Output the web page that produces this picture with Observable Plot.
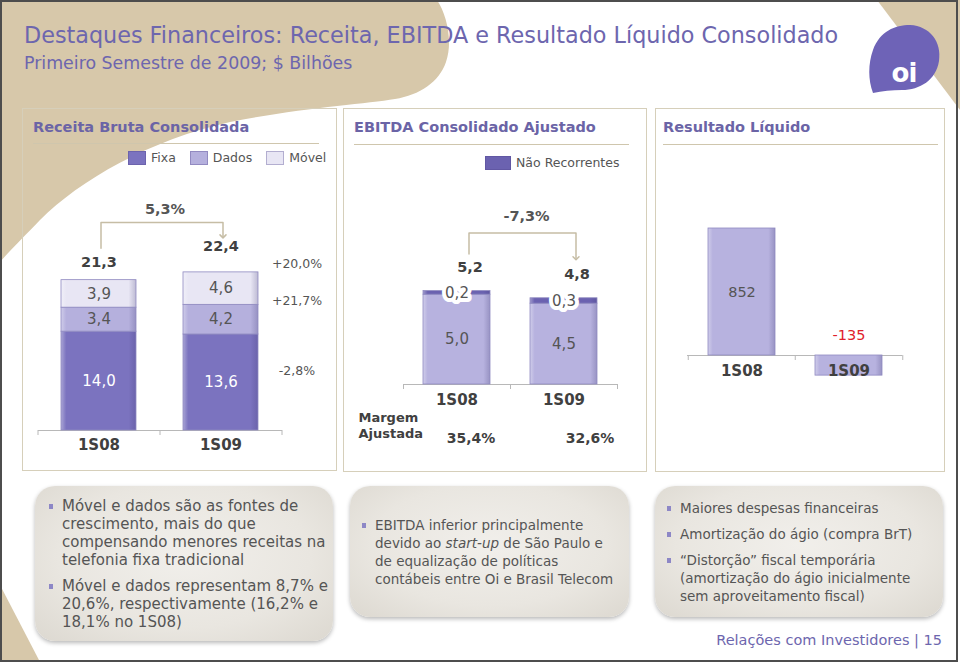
<!DOCTYPE html>
<html><head><meta charset="utf-8">
<script src="https://cdn.jsdelivr.net/npm/d3@7"></script>
<script src="https://cdn.jsdelivr.net/npm/@observablehq/plot@0.6"></script>
<style>
body{margin:0;background:#fff;}
#slide{position:relative;width:960px;height:665px;overflow:hidden;font-family:"DejaVu Sans",Verdana,sans-serif;color:#555;}
.abs{position:absolute;white-space:nowrap;}
.title{left:24px;top:22px;font-size:22.3px;line-height:26px;color:#6d66ae;}
.subtitle{left:24px;top:52px;font-size:17.4px;line-height:22px;color:#6d66ae;}
.panel{position:absolute;border:1px solid #d6cfba;box-sizing:border-box;}
.ptitle{font-size:14.5px;font-weight:bold;line-height:18px;color:#6b64a6;}
.pline{height:0;border-top:1.5px solid #cfc6ad;}
.legend{font-size:12.5px;line-height:16px;color:#555;display:flex;align-items:center;}
.legend .sw{display:inline-block;height:14px;margin-right:5px;box-sizing:border-box;border:1px solid rgba(80,70,140,0.35);}
.legend .it{display:flex;align-items:center;margin-right:14px;}
.box{position:absolute;border-radius:20px;box-sizing:border-box;display:flex;flex-direction:column;justify-content:center;
 background:radial-gradient(ellipse at 50% 45%, #f1efeb 0%, #e9e6e0 60%, #dcd8d0 100%);box-shadow:0 2px 4px rgba(0,0,0,0.28);color:#555;}
.box .item{position:relative;white-space:nowrap;line-height:18px;}
.box .item + .item{margin-top:8px;}
.box .item::before{content:"";position:absolute;left:-13px;top:7px;width:4px;height:5px;background:#8d87c6;}
.chart{position:absolute;}
.chart svg{max-width:none;}
.footer{right:18px;top:630px;font-size:14.5px;line-height:20px;color:#6d66ae;}
</style></head>
<body>
<div id="slide">
<svg class="abs" style="left:0;top:0" width="960" height="665">
 <path d="M0,0 L437,0 C447,15 453,42 446,62 C439,82 420,95 395,99 C365,104 300,108 230,122 C150,140 80,180 40,220 C25,236 12,248 0,262 Z" fill="#d7c8aa"/>
 <path d="M877,0 L960,0 L960,110 Z" fill="#d7c8aa"/>
 <path d="M0,585 L40,662 L0,662 Z" fill="#d7c8aa"/>
 <path d="M873,93 C868,80 868,64 873,50 C880,31 895,25 910,25 C930,26 942,42 939,61 C936,80 920,90 902,90 C892,90 882,91 873,93 Z" fill="#6e63b7"/>
 <text x="904" y="82" text-anchor="middle" font-family="DejaVu Sans" font-weight="bold" font-size="26" fill="#fff" letter-spacing="-1">oi</text>
 <rect x="1" y="1" width="956" height="660" fill="none" stroke="#4d4d4d" stroke-width="2"/>
</svg>
<div class="abs title">Destaques Financeiros: Receita, EBITDA e Resultado Líquido Consolidado</div>
<div class="abs subtitle">Primeiro Semestre de 2009; $ Bilhões</div>

<div class="panel" style="left:22px;top:108px;width:315px;height:363px"></div>
<div class="panel" style="left:343px;top:108px;width:304px;height:364px"></div>
<div class="panel" style="left:655px;top:108px;width:290px;height:364px"></div>

<div class="abs ptitle" style="left:33px;top:118px">Receita Bruta Consolidada</div>
<div class="abs pline" style="left:33px;top:143px;width:286px"></div>
<div class="abs ptitle" style="left:354px;top:118px">EBITDA Consolidado Ajustado</div>
<div class="abs pline" style="left:354px;top:144px;width:275px"></div>
<div class="abs ptitle" style="left:663px;top:118px">Resultado Líquido</div>
<div class="abs pline" style="left:663px;top:144px;width:275px"></div>

<div id="legend1" class="abs legend" style="left:128px;top:150px"></div>
<div id="legend2" class="abs legend" style="left:485px;top:155px"></div>

<div id="c1" class="chart" style="left:22px;top:190px;width:316px;height:280px"></div>
<div id="c2" class="chart" style="left:343px;top:190px;width:304px;height:280px"></div>
<div id="c3" class="chart" style="left:655px;top:190px;width:289px;height:280px"></div>

<div class="box" style="left:35px;top:486px;width:298px;height:155px;padding-left:27px;font-size:15px">
 <div class="item">Móvel e dados são as fontes de<br>crescimento, mais do que<br>compensando menores receitas na<br>telefonia fixa tradicional</div>
 <div class="item">Móvel e dados representam 8,7% e<br>20,6%, respectivamente (16,2% e<br>18,1% no 1S08)</div>
</div>
<div class="box" style="left:350px;top:486px;width:279px;height:131px;padding-left:25px;font-size:13.5px">
 <div class="item">EBITDA inferior principalmente<br>devido ao <i>start-up</i> de São Paulo e<br>de equalização de políticas<br>contábeis entre Oi e Brasil Telecom</div>
</div>
<div class="box" style="left:655px;top:486px;width:288px;height:131px;padding-left:25px;font-size:13.5px">
 <div class="item">Maiores despesas financeiras</div>
 <div class="item">Amortização do ágio (compra BrT)</div>
 <div class="item">“Distorção” fiscal temporária<br>(amortização do ágio inicialmente<br>sem aproveitamento fiscal)</div>
</div>
<div class="abs footer">Relações com Investidores | 15</div>
</div>

<script>
// ---------- data ----------
const periods = ["1S08", "1S09"];
const revenueSeries = ["Fixa", "Dados", "Móvel"];
const revenueFixa = [14.0, 13.6];
const revenueDados = [3.4, 4.2];
const revenueMovel = [3.9, 4.6];
const revenueTotal = [21.3, 22.4];
const revenueGrowth = ["-2,8%", "+21,7%", "+20,0%"]; // Fixa, Dados, Móvel
const revenueTotalGrowth = "5,3%";

const ebitdaSeries = ["Recorrente", "Não Recorrentes"];
const ebitdaRecorrente = [5.0, 4.5];
const ebitdaNaoRecorrente = [0.2, 0.3];
const ebitdaTotal = [5.2, 4.8];
const ebitdaGrowth = "-7,3%";
const margemAjustada = ["35,4%", "32,6%"];

const resultado = [852, -135];

// ---------- styles ----------
const revColors = ["#7b73bf", "#b5b0dd", "#e8e6f4"];
const ebColors = ["#b7b2df", "#6b62b0"];
const resColor = "#b7b2df";
const axisColor = "#b8b8b8";
const bracketColor = "#c6bda5";
const darkText = "#404040";
const midText = "#555";
const font = "DejaVu Sans, Verdana, sans-serif";
const fmt = v => v.toFixed(1).replace(".", ",");

// bevel gradients (one per fill colour)
const gradId = c => "g" + c.replace("#", "");
function addGradients(svg, colors) {
  const ns = "http://www.w3.org/2000/svg";
  const defs = document.createElementNS(ns, "defs");
  for (const c of colors) {
    const g = document.createElementNS(ns, "linearGradient");
    g.setAttribute("id", gradId(c));
    g.setAttribute("x1", "0"); g.setAttribute("x2", "1"); g.setAttribute("y1", "0"); g.setAttribute("y2", "0");
    const stops = [[0, d3.interpolate(c, "#fff")(0.35)], [0.07, c], [0.9, c], [1, d3.interpolate(c, "#3a3470")(0.25)]];
    for (const [o, col] of stops) {
      const s = document.createElementNS(ns, "stop");
      s.setAttribute("offset", o); s.setAttribute("stop-color", col);
      g.append(s);
    }
    defs.append(g);
  }
  svg.prepend(defs);
  return svg;
}
const urlOf = c => `url(#${gradId(c)})`;

// ---------- legends ----------
function legend(el, names, colors, swW) {
  el.innerHTML = names.map((n, i) =>
    `<span class="it"><span class="sw" style="width:${swW}px;background:${colors[i]}"></span>${n}</span>`).join("");
}
legend(document.getElementById("legend1"), revenueSeries, revColors, 18);
legend(document.getElementById("legend2"), [ebitdaSeries[1]], [ebColors[1]], 26);

// ---------- chart 1: Receita ----------
{
  const rows = periods.flatMap((p, i) => revenueSeries.map((s, j) =>
    ({period: p, series: s, value: [revenueFixa, revenueDados, revenueMovel][j][i]})));
  const totals = periods.map((p, i) => ({period: p, total: revenueTotal[i]}));
  const W = 316, H = 280, L = 16, R = 56, B = 40, T = 0, ymax = 34;
  const k = (H - B - T) / ymax, px = p => p / k;
  const step = (W - L - R) / periods.length;
  const top = d3.max(revenueTotal) + px(50);
  const bracket = [
    {period: periods[0], y: revenueTotal[0] + px(32)},
    {period: periods[0], y: top},
    {period: periods[1], y: top},
    {period: periods[1], y: revenueTotal[1] + px(36)}
  ];
  const growthDy = {"Fixa": -12, "Dados": -19, "Móvel": -25};
  const stackOpts = {x: "period", y: "value", z: "series", order: revenueSeries};
  const svg = Plot.plot({
    width: W, height: H, marginLeft: L, marginRight: R, marginTop: T, marginBottom: B,
    x: {domain: periods, paddingInner: 0.385, paddingOuter: 0.1925, axis: null},
    y: {domain: [0, ymax], axis: null},
    color: {domain: revenueSeries, range: revColors.map(urlOf)},
    style: {fontFamily: font, background: "transparent", overflow: "visible"},
    marks: [
      Plot.ruleY([0], {stroke: axisColor}),
      Plot.ruleX(periods, {x: d => d, dx: -step / 2, y1: 0, y2: -px(5), stroke: axisColor}),
      Plot.ruleX(periods.slice(-1), {x: d => d, dx: step / 2, y1: 0, y2: -px(5), stroke: axisColor}),
      Plot.barY(rows, {...stackOpts, fill: "series", stroke: "#8f89c0", strokeWidth: 0.8}),
      Plot.text(rows, Plot.stackY({...stackOpts, text: d => d.series === "Fixa" ? fmt(d.value) : "", fill: "white", fontSize: 15})),
      Plot.text(rows, Plot.stackY({...stackOpts, text: d => d.series !== "Fixa" ? fmt(d.value) : "", fill: midText, fontSize: 15})),
      ...revenueSeries.map((s, j) => Plot.text(rows, Plot.stackY({...stackOpts,
        text: d => d.period === periods[1] && d.series === s ? revenueGrowth[j] : "",
        dx: 76, dy: growthDy[s], fill: midText, fontSize: 12.5}))),
      Plot.text(totals, {filter: d => d.period === periods[0], x: "period", y: "total", dy: -18, text: d => fmt(d.total), fontWeight: "bold", fontSize: 14.5, fill: darkText}),
      Plot.text(totals, {filter: d => d.period === periods[1], x: "period", y: "total", dy: -26, text: d => fmt(d.total), fontWeight: "bold", fontSize: 14.5, fill: darkText}),
      Plot.line(bracket, {x: "period", y: "y", stroke: bracketColor, strokeWidth: 1.5, markerEnd: "arrow", dx: 2}),
      Plot.text([revenueTotalGrowth], {x: [periods[0]], y: [top], dx: step / 2 + 5, dy: -13, text: d => d, fontWeight: "bold", fontSize: 14.5, fill: midText}),
      Plot.text(periods, {x: d => d, frameAnchor: "bottom", dy: 19, text: d => d, fontWeight: "bold", fontSize: 15, fill: darkText})
    ]
  });
  document.getElementById("c1").append(addGradients(svg, revColors));
}

// ---------- chart 2: EBITDA ----------
{
  const rows = periods.flatMap((p, i) => [
    {period: p, series: ebitdaSeries[0], value: ebitdaRecorrente[i]},
    {period: p, series: ebitdaSeries[1], value: ebitdaNaoRecorrente[i]}]);
  const totals = periods.map((p, i) => ({period: p, total: ebitdaTotal[i], margem: margemAjustada[i]}));
  const W = 304, H = 280, L = 60, R = 30, B = 86, T = 0, ymax = 10.8;
  const k = (H - B - T) / ymax, px = p => p / k;
  const step = (W - L - R) / periods.length;
  const top = ebitdaTotal[0] + px(58);
  const bracket = [
    {period: periods[0], y: ebitdaTotal[0] + px(37)},
    {period: periods[0], y: top},
    {period: periods[1], y: top},
    {period: periods[1], y: ebitdaTotal[1] + px(40)}
  ];
  const stackOpts = {x: "period", y: "value", z: "series", order: ebitdaSeries};
  const svg = Plot.plot({
    width: W, height: H, marginLeft: L, marginRight: R, marginTop: T, marginBottom: B,
    x: {domain: periods, paddingInner: 0.374, paddingOuter: 0.187, axis: null},
    y: {domain: [0, ymax], axis: null},
    color: {domain: ebitdaSeries, range: ebColors.map(urlOf)},
    style: {fontFamily: font, background: "transparent", overflow: "visible"},
    marks: [
      Plot.ruleY([0], {stroke: axisColor}),
      Plot.ruleX(periods, {x: d => d, dx: -step / 2, y1: 0, y2: -px(5), stroke: axisColor}),
      Plot.ruleX(periods.slice(-1), {x: d => d, dx: step / 2, y1: 0, y2: -px(5), stroke: axisColor}),
      Plot.barY(rows, {...stackOpts, fill: "series", stroke: "#8f89c0", strokeWidth: 0.8}),
      Plot.text(rows, Plot.stackY({...stackOpts, text: d => d.series === ebitdaSeries[0] ? fmt(d.value) : "", fill: midText, fontSize: 15})),
      Plot.text(rows, Plot.stackY({...stackOpts, text: d => d.series === ebitdaSeries[1] ? fmt(d.value) : "", fill: midText, fontSize: 15, stroke: "white", strokeWidth: 8, strokeLinejoin: "round", paintOrder: "stroke"})),
      Plot.text(totals, {x: "period", y: "total", dx: 13, dy: -24, text: d => fmt(d.total), fontWeight: "bold", fontSize: 14.5, fill: darkText}),
      Plot.line(bracket, {x: "period", y: "y", stroke: bracketColor, strokeWidth: 1.5, markerEnd: "arrow", dx: 12}),
      Plot.text([ebitdaGrowth], {x: [periods[0]], y: [top], dx: step / 2 + 16, dy: -17, text: d => d, fontWeight: "bold", fontSize: 14.5, fill: midText}),
      Plot.text(periods, {x: d => d, frameAnchor: "bottom", dy: 20, text: d => d, fontWeight: "bold", fontSize: 15, fill: darkText}),
      Plot.text(totals, {filter: d => d.period === periods[0], x: "period", frameAnchor: "bottom", dx: 14, dy: 58, text: "margem", fontWeight: "bold", fontSize: 14, fill: darkText}),
      Plot.text(totals, {filter: d => d.period === periods[1], x: "period", frameAnchor: "bottom", dx: 26, dy: 58, text: "margem", fontWeight: "bold", fontSize: 14, fill: darkText}),
      Plot.text(["Margem\nAjustada"], {frameAnchor: "bottom-left", textAnchor: "start", dx: -45, dy: 53, lineHeight: 1.2, text: d => d, fontWeight: "bold", fontSize: 13, fill: darkText})
    ]
  });
  document.getElementById("c2").append(addGradients(svg, ebColors));
}

// ---------- chart 3: Resultado Líquido ----------
{
  const rows = periods.map((p, i) => ({period: p, value: resultado[i]}));
  const W = 289, H = 280, L = 32, R = 42, B = 115, T = 38;
  const step = (W - L - R) / periods.length;
  const k = (H - B - T) / d3.max(resultado), px = p => p / k;
  const svg = Plot.plot({
    width: W, height: H, marginLeft: L, marginRight: R, marginTop: T, marginBottom: B,
    x: {domain: periods, paddingInner: 0.377, paddingOuter: 0.1884, axis: null},
    y: {domain: [0, d3.max(resultado)], axis: null},
    style: {fontFamily: font, background: "transparent", overflow: "visible"},
    marks: [
      Plot.ruleY([0], {stroke: axisColor}),
      Plot.ruleX(periods, {x: d => d, dx: -step / 2, y1: 0, y2: -px(5), stroke: axisColor}),
      Plot.ruleX(periods.slice(-1), {x: d => d, dx: step / 2, y1: 0, y2: -px(5), stroke: axisColor}),
      Plot.barY(rows, {x: "period", y: "value", fill: urlOf(resColor), stroke: "#8f89c0", strokeWidth: 0.8}),
      Plot.text(rows, {filter: d => d.value > 0, x: "period", y: d => d.value / 2, text: d => String(d.value), fill: midText, fontSize: 14.5}),
      Plot.text(rows, {filter: d => d.value < 0, x: "period", y: 0, dy: -20, text: d => String(d.value), fill: "#e0212b", fontSize: 14.5}),
      Plot.text(periods, {x: d => d, frameAnchor: "bottom", dy: 20, text: d => d, fontWeight: "bold", fontSize: 15, fill: darkText})
    ]
  });
  document.getElementById("c3").append(addGradients(svg, [resColor]));
}
</script>
</body></html>
